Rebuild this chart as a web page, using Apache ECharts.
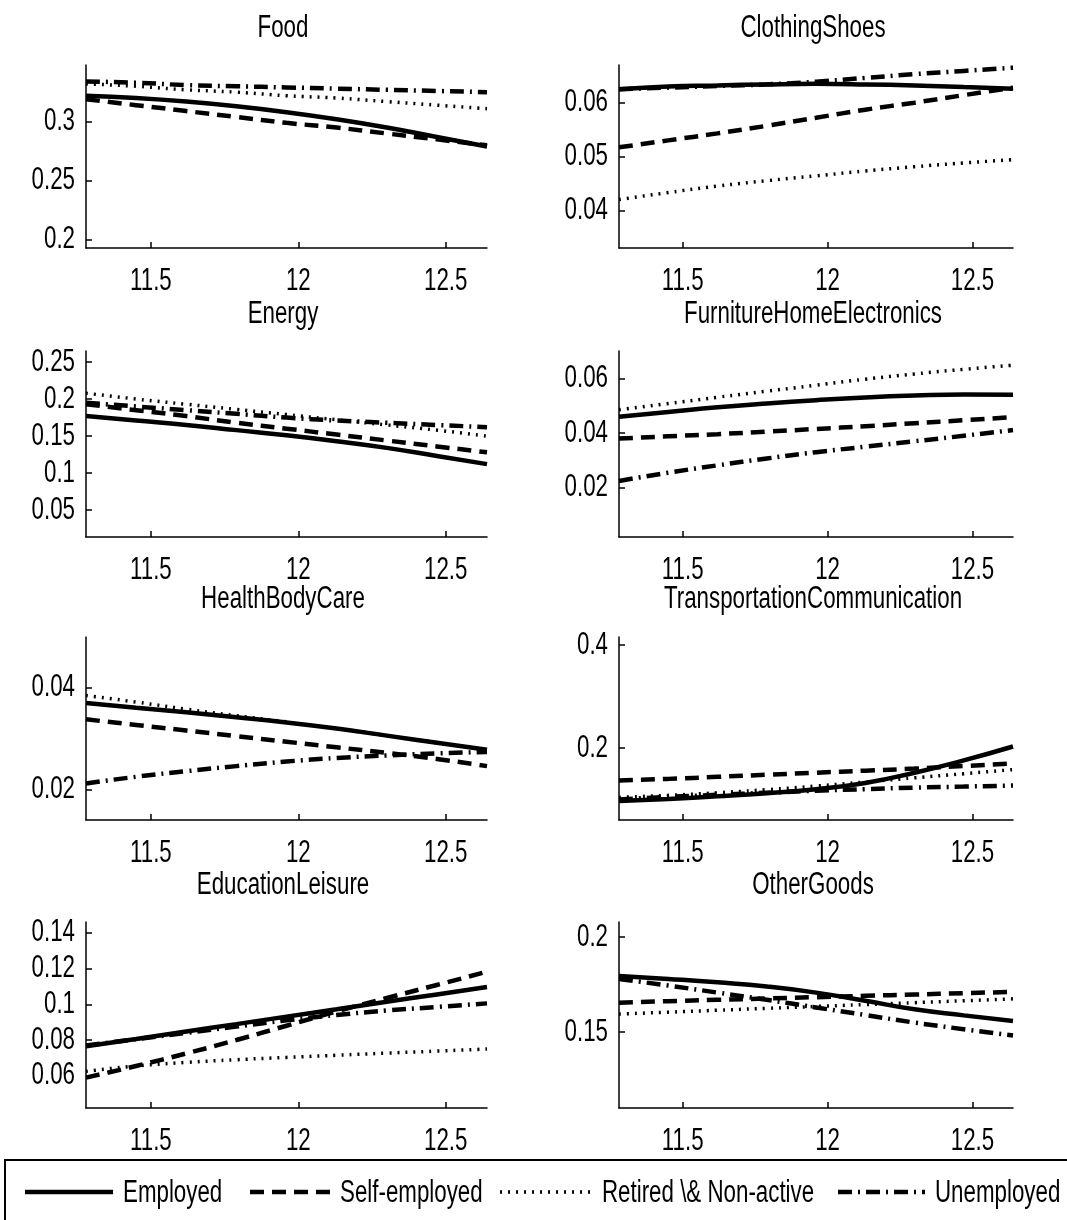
<!DOCTYPE html>
<html>
<head>
<meta charset="utf-8">
<script src="https://cdn.jsdelivr.net/npm/echarts@6/dist/echarts.min.js"></script>
<style>
html, body { margin: 0; padding: 0; background: #fff; }
#main { width: 1067px; height: 1220px; }
</style>
</head>
<body>
<div id="main"></div>
<script>
// shared x positions (log income) and tick labels
var xs = [11.28, 11.45, 11.62, 11.79, 11.96, 12.13, 12.30, 12.47, 12.64];
var xTicks = [11.5, 12, 12.5];
var groups = ['Employed', 'Self-employed', 'Retired \\& Non-active', 'Unemployed'];
var titles = ['Food', 'ClothingShoes', 'Energy', 'FurnitureHomeElectronics',
              'HealthBodyCare', 'TransportationCommunication', 'EducationLeisure', 'OtherGoods'];

// budget shares per group
var food_emp   = [0.322, 0.320, 0.317, 0.313, 0.308, 0.302, 0.295, 0.287, 0.279];
var food_self  = [0.319, 0.314, 0.309, 0.304, 0.299, 0.295, 0.290, 0.285, 0.280];
var food_ret   = [0.332, 0.330, 0.327, 0.325, 0.322, 0.320, 0.317, 0.314, 0.311];
var food_unemp = [0.334, 0.333, 0.331, 0.330, 0.329, 0.328, 0.327, 0.326, 0.325];

var cloth_emp   = [0.0625, 0.0630, 0.0632, 0.0634, 0.0635, 0.0634, 0.0632, 0.0629, 0.0626];
var cloth_self  = [0.0517, 0.0530, 0.0543, 0.0557, 0.0572, 0.0587, 0.0600, 0.0614, 0.0628];
var cloth_ret   = [0.0420, 0.0433, 0.0445, 0.0455, 0.0464, 0.0473, 0.0481, 0.0488, 0.0494];
var cloth_unemp = [0.0625, 0.0628, 0.0631, 0.0634, 0.0639, 0.0646, 0.0653, 0.0659, 0.0665];

var energy_emp   = [0.177, 0.171, 0.165, 0.158, 0.151, 0.143, 0.134, 0.123, 0.112];
var energy_self  = [0.193, 0.185, 0.177, 0.168, 0.160, 0.152, 0.144, 0.136, 0.128];
var energy_ret   = [0.208, 0.200, 0.193, 0.186, 0.179, 0.172, 0.165, 0.158, 0.150];
var energy_unemp = [0.195, 0.190, 0.185, 0.180, 0.175, 0.171, 0.168, 0.165, 0.162];

var furn_emp   = [0.0460, 0.0477, 0.0494, 0.0508, 0.0520, 0.0530, 0.0537, 0.0541, 0.0540];
var furn_self  = [0.0380, 0.0388, 0.0396, 0.0405, 0.0415, 0.0425, 0.0436, 0.0447, 0.0458];
var furn_ret   = [0.0485, 0.0508, 0.0531, 0.0553, 0.0575, 0.0597, 0.0616, 0.0633, 0.0648];
var furn_unemp = [0.0225, 0.0255, 0.0282, 0.0307, 0.0330, 0.0350, 0.0370, 0.0390, 0.0411];

var health_emp   = [0.0370, 0.0361, 0.0352, 0.0342, 0.0332, 0.0320, 0.0306, 0.0292, 0.0278];
var health_self  = [0.0338, 0.0327, 0.0316, 0.0305, 0.0294, 0.0283, 0.0272, 0.0260, 0.0246];
var health_ret   = [0.0385, 0.0372, 0.0358, 0.0345, 0.0333, 0.0320, 0.0306, 0.0292, 0.0278];
var health_unemp = [0.0212, 0.0225, 0.0236, 0.0246, 0.0255, 0.0262, 0.0267, 0.0271, 0.0274];

var trans_emp   = [0.097, 0.101, 0.106, 0.112, 0.120, 0.132, 0.152, 0.176, 0.203];
var trans_self  = [0.137, 0.140, 0.144, 0.148, 0.152, 0.156, 0.160, 0.165, 0.170];
var trans_ret   = [0.104, 0.108, 0.113, 0.119, 0.126, 0.134, 0.142, 0.150, 0.158];
var trans_unemp = [0.100, 0.105, 0.109, 0.113, 0.117, 0.120, 0.123, 0.125, 0.127];

var edu_emp   = [0.0765, 0.0806, 0.0848, 0.0889, 0.0931, 0.0972, 0.1014, 0.1055, 0.1097];
var edu_self  = [0.0590, 0.0655, 0.0725, 0.0800, 0.0880, 0.0960, 0.1035, 0.1108, 0.1182];
var edu_ret   = [0.0625, 0.0655, 0.0675, 0.0690, 0.0703, 0.0715, 0.0727, 0.0738, 0.0750];
var edu_unemp = [0.0770, 0.0805, 0.0840, 0.0875, 0.0910, 0.0940, 0.0965, 0.0985, 0.1005];

var other_emp   = [0.1796, 0.1780, 0.1762, 0.1740, 0.1708, 0.1665, 0.1620, 0.1588, 0.1558];
var other_self  = [0.1655, 0.1663, 0.1670, 0.1677, 0.1684, 0.1691, 0.1698, 0.1705, 0.1712];
var other_ret   = [0.1595, 0.1605, 0.1615, 0.1625, 0.1635, 0.1645, 0.1655, 0.1665, 0.1675];
var other_unemp = [0.1780, 0.1745, 0.1708, 0.1670, 0.1630, 0.1590, 0.1550, 0.1515, 0.1482];

// y tick labels per panel
var yTicks = [
  [0.2, 0.25, 0.3],
  [0.04, 0.05, 0.06],
  [0.05, 0.1, 0.15, 0.2, 0.25],
  [0.02, 0.04, 0.06],
  [0.02, 0.04],
  [0.2, 0.4],
  [0.06, 0.08, 0.1, 0.12, 0.14],
  [0.15, 0.2]
];

var panelData = [
  [food_emp, food_self, food_ret, food_unemp],
  [cloth_emp, cloth_self, cloth_ret, cloth_unemp],
  [energy_emp, energy_self, energy_ret, energy_unemp],
  [furn_emp, furn_self, furn_ret, furn_unemp],
  [health_emp, health_self, health_ret, health_unemp],
  [trans_emp, trans_self, trans_ret, trans_unemp],
  [edu_emp, edu_self, edu_ret, edu_unemp],
  [other_emp, other_self, other_ret, other_unemp]
];

// axis ranges and layout
var yRange = [[0.193, 0.348], [0.033, 0.067], [0.0135, 0.265], [0.002, 0.070],
              [0.014, 0.050], [0.060, 0.416], [0.042, 0.146], [0.110, 0.208]];
var colLeft = [86, 619], colWidth = [401, 394];
var rowTop = [65, 351, 637, 922], rowHeight = [183, 186, 183, 186];
var titleMidY = [28, 314, 599, 885], titleMidX = [283, 813];

// narrow MATLAB-like text: Liberation Sans squeezed horizontally
var FONT = 'Liberation Sans', FSIZE = 31, SQUEEZE = 0.72;
var lineStyles = [
  { type: 'solid', width: 4.5, dash: null },
  { type: [14, 8], width: 4.5, dash: [14, 8] },
  { type: [2, 6], width: 3.5, dash: [2, 6] },
  { type: [14, 6, 2, 6], width: 4.5, dash: [14, 6, 2, 6] }
];

var grids = [], xAxes = [], yAxes = [], series = [];
for (var p = 0; p < 8; p++) {
  var c = p % 2, r = Math.floor(p / 2);
  grids.push({ left: colLeft[c], top: rowTop[r], width: colWidth[c], height: rowHeight[r] });
  xAxes.push({
    type: 'value', gridIndex: p, min: 11.28, max: 12.64,
    axisLine: { lineStyle: { color: '#000', width: 1.5 } },
    axisTick: { inside: true, length: 6, customValues: xTicks, lineStyle: { color: '#000', width: 1.5 } },
    axisLabel: { show: false },
    splitLine: { show: false }
  });
  yAxes.push({
    type: 'value', gridIndex: p, min: yRange[p][0], max: yRange[p][1],
    axisLine: { show: true, lineStyle: { color: '#000', width: 1.5 } },
    axisTick: { show: true, inside: true, length: 6, customValues: yTicks[p], lineStyle: { color: '#000', width: 1.5 } },
    axisLabel: { show: false },
    splitLine: { show: false }
  });
  for (var g = 0; g < 4; g++) {
    var vals = panelData[p][g];
    series.push({
      type: 'line', name: groups[g], xAxisIndex: p, yAxisIndex: p,
      data: xs.map(function (x, i) { return [x, vals[i]]; }),
      symbol: 'none', smooth: true, z: 4 - g,
      lineStyle: { color: '#000', type: lineStyles[g].type, width: lineStyles[g].width }
    });
  }
}

var chart = echarts.init(document.getElementById('main'));
chart.setOption({
  animation: false,
  backgroundColor: '#fff',
  grid: grids,
  xAxis: xAxes,
  yAxis: yAxes,
  series: series
});

function label(text, x, y, align) {
  return {
    type: 'text', x: x, y: y, scaleX: SQUEEZE, silent: true,
    style: { text: text, fontFamily: FONT, fontSize: FSIZE, fill: '#000', align: align, verticalAlign: 'middle' }
  };
}

// tick labels placed through each panel's own axes
var els = [];
for (var p = 0; p < 8; p++) {
  var c = p % 2, r = Math.floor(p / 2);
  xTicks.forEach(function (v) {
    var pt = chart.convertToPixel({ gridIndex: p }, [v, yRange[p][0]]);
    els.push(label(String(v), pt[0], pt[1] + 33, 'center'));
  });
  yTicks[p].forEach(function (v) {
    var pt = chart.convertToPixel({ gridIndex: p }, [11.28, v]);
    els.push(label(String(v), pt[0] - 11, pt[1], 'right'));
  });
  els.push(label(titles[p], titleMidX[c], titleMidY[r], 'center'));
}

// legend box with line samples
els.push({
  type: 'rect', silent: true,
  shape: { x: 5, y: 1160, width: 1075, height: 70 },
  style: { fill: 'none', stroke: '#000', lineWidth: 2 }
});
var legLine = [[25, 113], [250, 330], [500, 590], [838, 925]];
var legText = [123, 340, 602, 935];
for (var g = 0; g < 4; g++) {
  els.push({
    type: 'line', silent: true,
    shape: { x1: legLine[g][0], y1: 1192, x2: legLine[g][1], y2: 1192 },
    style: { stroke: '#000', lineWidth: lineStyles[g].width, lineDash: lineStyles[g].dash }
  });
  els.push(label(groups[g], legText[g], 1193, 'left'));
}

chart.setOption({ graphic: els });
</script>
</body>
</html>
